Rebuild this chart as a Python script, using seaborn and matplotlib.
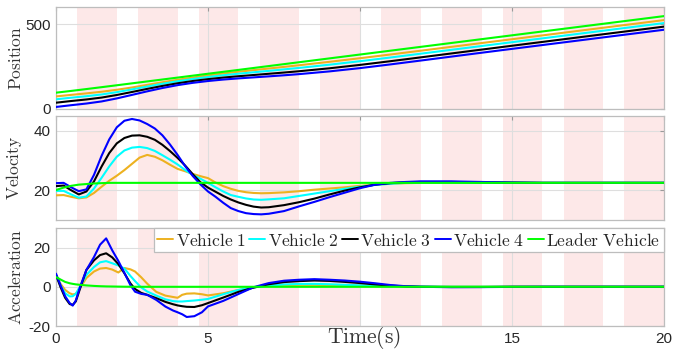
import matplotlib
matplotlib.use("Agg")
import matplotlib.pyplot as plt
import numpy as np
import pandas as pd
import seaborn as sns

# ---- series names / colours -------------------------------------------
vehicle_names = ["Vehicle 1", "Vehicle 2", "Vehicle 3", "Vehicle 4", "Leader Vehicle"]
legend_labels = [r"$\mathrm{Vehicle\ 1}$", r"$\mathrm{Vehicle\ 2}$",
                 r"$\mathrm{Vehicle\ 3}$", r"$\mathrm{Vehicle\ 4}$",
                 r"$\mathrm{Leader\ Vehicle}$"]
vehicle_colors = ["#EDB120", "#00FFFF", "#000000", "#0000FF", "#00FF00"]

# ---- shaded switching intervals (s) --------------------------------------
interval_start = [0.7, 2.7, 4.7, 6.7, 8.7, 10.7, 12.7, 14.7, 16.7, 18.7]
interval_end = [2.0, 4.0, 6.0, 8.0, 10.0, 12.0, 14.0, 16.0, 18.0, 20.0]

# ---- time axis ticks -----------------------------------------------------
time_ticks = [0, 5, 10, 15, 20]
time_tick_labels = ["0", "5", "", "15", "20"]

# ---- position ------------------------------------------------------------
t_pos = [0, 0.5, 1, 1.5, 2, 2.5, 3, 3.5, 4, 4.5, 5, 5.5, 6, 6.5, 7, 7.5, 8,
         9, 10, 11, 12, 13, 14, 15, 16, 17, 18, 19, 20]
pos_v1 = [74.0, 83.1, 91.9, 101.5, 113.1, 126.5, 141.8, 157.4, 171.7, 184.9,
          197.3, 208.6, 218.9, 228.6, 238.1, 247.7, 257.5,
          277.6, 298.7, 320.5, 342.9, 365.4, 387.9, 410.4, 432.9, 455.4, 477.9, 500.4, 522.9]
pos_v2 = [57.0, 66.5, 75.3, 85.5, 99.1, 115.3, 132.2, 148.5, 163.3, 176.5,
          188.2, 198.5, 207.5, 216.0, 224.4, 233.0, 241.8,
          260.7, 281.2, 302.9, 325.4, 348.0, 370.5, 393.0, 415.5, 438.0, 460.5, 483.0, 505.5]
pos_v3 = [37.0, 47.0, 56.1, 67.2, 82.4, 100.1, 118.3, 135.7, 151.4, 164.7,
          175.6, 184.8, 192.8, 200.0, 207.2, 214.5, 222.2,
          239.5, 259.4, 281.2, 303.8, 326.6, 349.4, 372.0, 394.6, 417.1, 439.6, 462.1, 484.6]
pos_v4 = [12.0, 22.4, 32.2, 44.5, 62.3, 83.0, 103.9, 123.4, 140.4, 153.9,
          164.6, 173.2, 180.0, 186.0, 192.0, 198.3, 205.2,
          221.3, 240.5, 262.3, 285.1, 308.1, 331.0, 353.7, 376.2, 398.7, 421.2, 443.7, 466.2]
pos_leader = [96.0, 106.4, 117.3, 128.4, 139.6, 150.9, 162.2, 173.5, 184.8, 196.1,
              207.4, 218.7, 230.0, 241.3, 252.6, 263.9, 275.2,
              297.8, 320.4, 343.0, 365.6, 388.2, 410.8, 433.4, 456.0, 478.6, 501.2, 523.8, 546.4]

# ---- velocity ------------------------------------------------------------
t_vel = [0, 0.25, 0.5, 0.75, 1, 1.25, 1.5, 1.75, 2, 2.25, 2.5, 2.75, 3, 3.25,
         3.5, 3.75, 4, 4.25, 4.5, 4.75, 5, 5.25, 5.5, 5.75, 6, 6.25, 6.5, 6.75, 7,
         7.5, 8, 8.5, 9, 9.5, 10, 10.5, 11, 11.5, 12,
         13, 14, 15, 16, 17, 18, 19, 20]
vel_v1 = [18.3, 18.4, 17.8, 17.3, 17.6, 19.1, 21.2, 23.2, 24.9, 26.8, 28.9, 31.0,
          31.9, 31.3, 30.1, 28.6, 27.2, 26.4, 25.5, 24.75, 24.1, 22.6, 21.4, 20.5,
          19.8, 19.35, 19.1, 19.0, 19.05,
          19.3, 19.7, 20.2, 20.6, 21.0, 21.5, 21.9, 22.2, 22.4, 22.5,
          22.5, 22.5, 22.5, 22.5, 22.5, 22.5, 22.5, 22.5]
vel_v2 = [19.8, 19.8, 18.6, 17.5, 17.9, 20.6, 24.2, 28.0, 31.3, 33.4, 34.35, 34.6,
          34.2, 33.25, 31.8, 30.3, 28.7, 26.8, 25.2, 23.9, 22.5, 21.0, 19.6, 18.4,
          17.8, 17.25, 16.9, 16.8, 16.95,
          17.3, 18.1, 18.9, 19.7, 20.5, 21.2, 21.8, 22.2, 22.5, 22.6,
          22.6, 22.5, 22.5, 22.5, 22.5, 22.5, 22.5, 22.5]
vel_v3 = [21.4, 21.6, 20.0, 18.6, 19.6, 23.0, 28.0, 32.5, 35.8, 37.6, 38.4, 38.5,
          38.0, 37.0, 35.3, 33.2, 30.9, 28.3, 25.4, 22.7, 20.9, 19.5, 18.1, 16.9,
          15.9, 15.1, 14.5, 14.2, 14.3,
          15.0, 16.0, 17.2, 18.6, 19.9, 21.0, 21.9, 22.4, 22.7, 22.8,
          22.8, 22.7, 22.6, 22.5, 22.5, 22.5, 22.5, 22.5]
vel_v4 = [22.4, 22.5, 21.0, 19.7, 20.3, 25.2, 31.6, 37.1, 41.2, 43.4, 44.0, 43.5,
          42.3, 40.8, 38.5, 35.4, 31.9, 28.1, 24.8, 22.0, 19.6, 17.8, 15.8, 14.0,
          13.0, 12.3, 12.0, 11.9, 12.1,
          13.0, 14.6, 16.1, 17.7, 19.2, 20.7, 21.9, 22.5, 22.8, 23.0,
          23.0, 22.8, 22.6, 22.5, 22.5, 22.5, 22.5, 22.5]
vel_leader = [20.1, 20.9, 21.5, 21.9, 22.1, 22.3, 22.4, 22.5, 22.5, 22.5, 22.5, 22.5,
              22.5, 22.5, 22.5, 22.5, 22.5, 22.5, 22.5, 22.5, 22.5, 22.5, 22.5, 22.5,
              22.5, 22.5, 22.5, 22.5, 22.5,
              22.5, 22.5, 22.5, 22.5, 22.5, 22.5, 22.5, 22.5, 22.5, 22.5,
              22.5, 22.5, 22.5, 22.5, 22.5, 22.5, 22.5, 22.5]

# ---- acceleration --------------------------------------------------------
t_acc = [0, 0.15, 0.3, 0.45, 0.55, 0.65, 0.8, 1.0, 1.25, 1.45,
         1.65, 1.85, 2.05, 2.25, 2.45, 2.6, 2.8, 3.0, 3.3, 3.6,
         3.85, 4.0, 4.15, 4.3, 4.55, 4.8, 5.0,
         5.5, 6.0, 6.5, 7.0, 7.5, 8.0, 8.5, 9.0, 9.5, 10.0, 10.5, 11.0, 11.5, 12.0,
         13, 14, 15, 16, 17, 18, 19, 20]
acc_v1 = [5.8, 1.5, -1.6, -3.3, -3.9, -3.6, -0.4, 4.5, 7.8, 9.3,
          9.6, 8.8, 7.3, 9.6, 8.9, 7.8, 4.9, 1.6, -2.6, -4.5,
          -5.2, -5.6, -4.1, -3.5, -3.35, -3.8, -4.4,
          -3.3, -1.6, -0.3, 0.6, 0.85, 1.0, 1.0, 0.9, 0.8, 0.6, 0.4, 0.2, 0.1, 0.0,
          0.0, 0.0, 0.0, 0.0, 0.0, 0.0, 0.0, 0.0]
acc_v2 = [5.8, 0.7, -3.3, -4.9, -4.8, -3.6, 0.4, 6.1, 10.1, 12.5,
          13.1, 12.0, 10.9, 9.3, 5.5, 2.9, -0.3, -2.4, -4.5, -6.4,
          -7.3, -7.5, -7.5, -7.3, -7.0, -6.6, -6.2,
          -3.8, -1.6, -0.3, 0.6, 1.2, 1.45, 1.5, 1.3, 1.0, 0.75, 0.5, 0.35, 0.2, 0.1,
          0.0, 0.0, 0.0, 0.0, 0.0, 0.0, 0.0, 0.0]
acc_v3 = [6.1, -0.2, -5.6, -8.8, -9.2, -7.5, -0.5, 8.6, 13.5, 16.2,
          17.1, 15.0, 11.6, 6.9, 1.7, -1.1, -3.1, -4.1, -5.8, -7.7,
          -8.9, -9.5, -9.9, -10.2, -10.3, -9.4, -8.3,
          -5.5, -2.6, -0.4, 1.3, 2.4, 2.9, 3.2, 3.0, 2.5, 1.9, 1.2, 0.6, 0.2, 0.0,
          -0.1, -0.1, 0.0, 0.0, 0.0, 0.0, 0.0, 0.0]
acc_v4 = [6.7, 0.7, -4.8, -8.3, -9.6, -7.0, 0.3, 8.6, 15.2, 21.5,
          24.7, 18.6, 13.2, 7.1, 0.8, -2.5, -3.6, -4.1, -6.7, -10.1,
          -12.1, -13.0, -14.0, -15.4, -15.0, -13.0, -10.0,
          -7.2, -3.7, -0.2, 1.9, 3.1, 3.6, 3.9, 3.6, 3.2, 2.6, 1.8, 0.9, 0.3, 0.0,
          -0.2, -0.15, -0.05, 0.0, 0.0, 0.0, 0.0, 0.0]
acc_leader = [5.0, 3.7, 2.5, 1.8, 1.5, 1.25, 1.0, 0.7, 0.45, 0.3,
              0.2, 0.15, 0.1, 0.05, 0.03, 0.02, 0.01, 0.0, 0.0, 0.0,
              0.0, 0.0, 0.0, 0.0, 0.0, 0.0, 0.0,
              0.0, 0.0, 0.0, 0.0, 0.0, 0.0, 0.0, 0.0, 0.0, 0.0, 0.0, 0.0, 0.0, 0.0,
              0.0, 0.0, 0.0, 0.0, 0.0, 0.0, 0.0, 0.0]


def long_frame(t, series):
    parts = [pd.DataFrame({"t": t, "value": vals, "vehicle": name})
             for name, vals in zip(vehicle_names, series)]
    return pd.concat(parts, ignore_index=True)


panels = [
    (long_frame(t_pos, [pos_v1, pos_v2, pos_v3, pos_v4, pos_leader]),
     r"$\mathrm{Position}$", (0, 600), [0, 500]),
    (long_frame(t_vel, [vel_v1, vel_v2, vel_v3, vel_v4, vel_leader]),
     r"$\mathrm{Velocity}$", (10, 45), [20, 40]),
    (long_frame(t_acc, [acc_v1, acc_v2, acc_v3, acc_v4, acc_leader]),
     r"$\mathrm{Acceleration}$", (-20, 30), [-20, 0, 20]),
]

sns.set_theme(style="white")
plt.rcParams["font.family"] = ["Liberation Sans", "DejaVu Sans"]
plt.rcParams["mathtext.fontset"] = "cm"
plt.rcParams["axes.unicode_minus"] = False

fig = plt.figure(figsize=(6.74, 3.53), dpi=100)
W, H = 674.0, 353.0
left_px, right_px = 56, 664
boxes_px = [(7, 109), (116, 220), (228, 326)]
palette = dict(zip(vehicle_names, vehicle_colors))

axes = []
for i, ((df, ylabel, ylim, yticks), (top, bot)) in enumerate(zip(panels, boxes_px)):
    ax = fig.add_axes([left_px / W, 1 - bot / H, (right_px - left_px) / W, (bot - top) / H])
    axes.append(ax)
    for s, e in zip(interval_start, interval_end):
        ax.axvspan(s, e, color="#fde8e8", lw=0, zorder=0.2)
    sns.lineplot(data=df, x="t", y="value", hue="vehicle", hue_order=vehicle_names,
                 palette=palette, estimator=None, errorbar=None, sort=False,
                 linewidth=1.5, ax=ax, legend=(i == 2), zorder=3)
    ax.set_xlim(0, 20)
    ax.set_ylim(*ylim)
    ax.set_xticks(time_ticks)
    ax.set_yticks(yticks)
    ax.grid(True, color="#dedede", linewidth=0.8)
    ax.set_axisbelow(True)
    ax.tick_params(direction="in", length=3, width=0.8, top=True, right=True,
                   color="#9a9a9a", labelsize=11, labelcolor="#262626", pad=4)
    for sp in ax.spines.values():
        sp.set_color("#bdbdbd")
        sp.set_linewidth(0.9)
    ax.set_xlabel("")
    ax.set_ylabel(ylabel, fontsize=12.5, color="#333333")
    ax.yaxis.set_label_coords(-0.053, 0.5)
    if i < 2:
        ax.tick_params(labelbottom=False)

ax = axes[2]
ax.set_xticklabels(time_tick_labels)
handles, _ = ax.get_legend_handles_labels()
leg = ax.legend(handles, legend_labels, ncol=5, loc="upper right",
                bbox_to_anchor=(1.0, 1.0), fontsize=12.6, frameon=True,
                fancybox=False, edgecolor="#bdbdbd", framealpha=1,
                handlelength=0.9, handletextpad=0.15, columnspacing=0.2,
                borderpad=0.2, borderaxespad=0.0)
leg.get_frame().set_linewidth(0.9)
for line in leg.get_lines():
    line.set_linewidth(1.4)

ax.set_xlabel(r"$\mathrm{Time(s)}$", fontsize=15.5, color="#333333")
ax.xaxis.set_label_coords(0.507, 0.02)

fig.savefig("out.png", dpi=100)
